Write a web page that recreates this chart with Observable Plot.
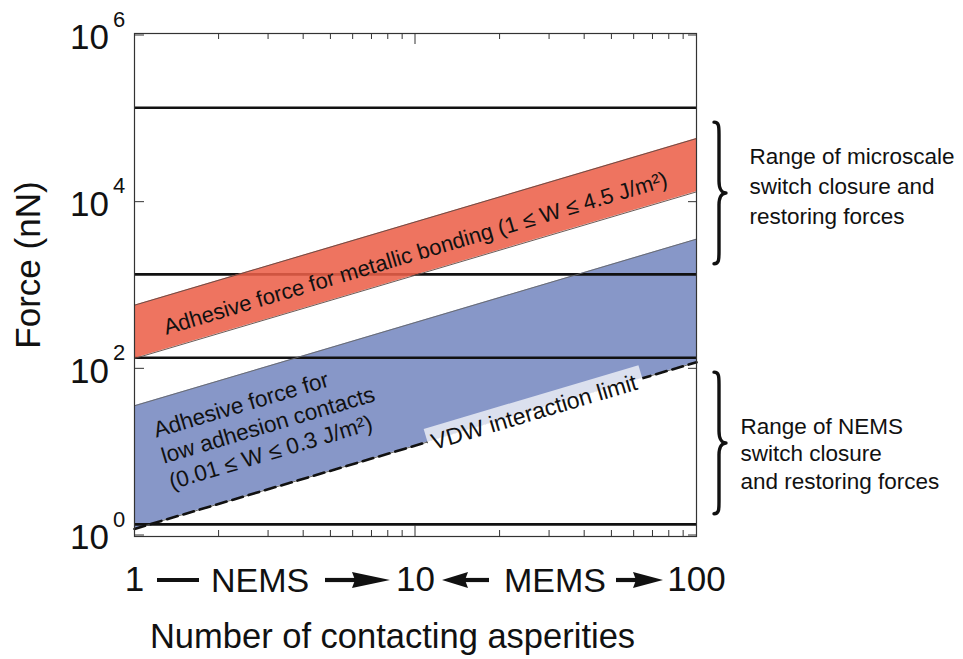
<!DOCTYPE html>
<html>
<head>
<meta charset="utf-8">
<script src="https://cdn.jsdelivr.net/npm/d3@7"></script>
<script src="https://cdn.jsdelivr.net/npm/@observablehq/plot@0.6"></script>
<style>
  html, body { margin: 0; padding: 0; background: #fff; }
  #chart svg { display: block; }
</style>
</head>
<body>
<div id="chart"></div>
<script>
// Number of contacting asperities at the two ends of each band (force scales linearly with N)
const asperities = [1, 100];
// Adhesive force for metallic bonding, 1 ≤ W ≤ 4.5 J/m² (nN)
const metallicLow = [133, 13300];
const metallicHigh = [580, 58000];
// Adhesive force for low adhesion contacts, 0.01 ≤ W ≤ 0.3 J/m² (nN); lower edge is the VDW limit
const lowAdhesionLow = [1.2, 120];
const lowAdhesionHigh = [36, 3600];
// Horizontal reference force levels (nN)
const referenceForces = [1.36, 136, 1360, 136000];
// Bracketed force ranges (nN)
const microscaleRange = [1800, 90000];
const nemsRange = [1.8, 90];
// Axis ticks
const forceTicks = [1, 100, 10000, 1000000];
const forceExponents = ["0", "2", "4", "6"];
const asperityTicks = [1, 10, 100];
const minorTicks = [2, 3, 4, 5, 6, 7, 8, 9, 20, 30, 40, 50, 60, 70, 80, 90];

const metallicLabel = "Adhesive force for metallic bonding (1 \u2264 W \u2264 4.5 J/m\u00b2)";
const lowAdhesionLabel = "Adhesive force for\nlow adhesion contacts\n(0.01 \u2264 W \u2264 0.3 J/m\u00b2)";
const vdwLabelText = "VDW interaction limit";
const microscaleLabel = "Range of microscale\nswitch closure and\nrestoring forces";
const nemsLabel = "Range of NEMS\nswitch closure\nand restoring forces";

const metallic = asperities.map((n, i) => ({n, lo: metallicLow[i], hi: metallicHigh[i]}));
const lowAdhesion = asperities.map((n, i) => ({n, lo: lowAdhesionLow[i], hi: lowAdhesionHigh[i]}));

const W = 963, H = 659;
const mL = 134, mR = 267, mT = 33, mB = 123;
const yTop = 35, yBottom = 535;
const plotW = W - mL - mR;
// slope of a force ∝ N line on screen
const angle = -Math.atan(((yBottom - yTop) / 6) / (plotW / 2)) * 180 / Math.PI;
const FONT = "Liberation Sans, Arial, Helvetica, sans-serif";

const gmean = (a) => Math.sqrt(a[0] * a[a.length - 1]);

// inward ticks on all four sides of the frame
function frameTicks(index, {x, y}, values, dim) {
  const top = dim.marginTop, bottom = dim.height - dim.marginBottom;
  const left = dim.marginLeft, right = dim.width - dim.marginRight;
  const g = d3.create("svg:g").attr("stroke", "#333").attr("stroke-width", 1);
  for (const v of minorTicks) {
    const px = x(v);
    g.append("line").attr("x1", px).attr("x2", px).attr("y1", top).attr("y2", top + 6);
    g.append("line").attr("x1", px).attr("x2", px).attr("y1", bottom).attr("y2", bottom - 6);
  }
  const p10 = x(asperityTicks[1]);
  g.append("line").attr("x1", p10).attr("x2", p10).attr("y1", top).attr("y2", top + 11);
  g.append("line").attr("x1", p10).attr("x2", p10).attr("y1", bottom).attr("y2", bottom - 11);
  for (const v of forceTicks) {
    const py = y(v);
    g.append("line").attr("x1", left).attr("x2", left + 10).attr("y1", py).attr("y2", py);
    g.append("line").attr("x1", right).attr("x2", right - 8).attr("y1", py).attr("y2", py);
  }
  return g.node();
}

// y tick labels written as a base of 10 with a raised exponent
function forceTickLabels(index, {y}, values, dim) {
  const left = dim.marginLeft;
  const g = d3.create("svg:g").attr("font-family", FONT).attr("fill", "#111");
  forceTicks.forEach((v, i) => {
    const py = y(v);
    g.append("text").attr("x", left - 25).attr("y", py + 2).attr("dy", "0.35em")
      .attr("text-anchor", "end").attr("font-size", 35).text("10");
    g.append("text").attr("x", left - 21).attr("y", py - 16).attr("dy", "0.35em")
      .attr("text-anchor", "start").attr("font-size", 22).text(forceExponents[i]);
  });
  return g.node();
}

// arrow drawn as a bar and a solid head; dir = +1 points right, -1 points left
function arrow(g, x0, x1, cy, head, dir) {
  const tip = dir > 0 ? x1 : x0;
  const base = tip - dir * head;
  const tail = dir > 0 ? x0 : x1;
  g.append("line").attr("x1", tail).attr("x2", base + dir * 3).attr("y1", cy).attr("y2", cy)
    .attr("stroke", "#111").attr("stroke-width", 4.2);
  g.append("path").attr("d", `M${tip},${cy} L${base},${cy - 8} L${base + dir * 3},${cy} L${base},${cy + 8} Z`)
    .attr("fill", "#111");
}

// NEMS / MEMS regime markers between the x tick labels
function regimeMarkers(index, {x}, values, dim) {
  const cy = dim.height - dim.marginBottom + 44;
  const x1 = x(asperityTicks[0]), x10 = x(asperityTicks[1]), x100 = x(asperityTicks[2]);
  const g = d3.create("svg:g").attr("text-anchor", "start");
  g.append("line").attr("x1", x1 + 23).attr("x2", x1 + 65).attr("y1", cy).attr("y2", cy)
    .attr("stroke", "#111").attr("stroke-width", 4.2);
  g.append("text").attr("x", x1 + 77).attr("y", cy).attr("dy", "0.35em")
    .attr("font-size", 34).attr("font-family", FONT).attr("fill", "#111").text("NEMS");
  arrow(g, x10 - 90, x10 - 25, cy, 38, 1);
  arrow(g, x10 + 27, x10 + 74, cy, 26, -1);
  g.append("text").attr("x", x10 + 89).attr("y", cy).attr("dy", "0.35em")
    .attr("font-size", 34).attr("font-family", FONT).attr("fill", "#111").text("MEMS");
  arrow(g, x100 - 80, x100 - 33, cy, 30, 1);
  return g.node();
}

// label sitting on the VDW line, with a pale backing box
function vdwLabel(index, {x, y}) {
  const ax = x(asperities[0]), ay = y(lowAdhesionLow[0]);
  const bx = x(asperities[1]), by = y(lowAdhesionLow[1]);
  const len = Math.hypot(bx - ax, by - ay);
  const ux = (bx - ax) / len, uy = (by - ay) / len;
  const t0 = 306;
  const px = ax + ux * t0, py = ay + uy * t0;
  const deg = Math.atan2(uy, ux) * 180 / Math.PI;
  const g = d3.create("svg:g").attr("transform", `translate(${px},${py}) rotate(${deg})`)
    .attr("text-anchor", "start");
  g.append("rect").attr("x", 0).attr("y", -13).attr("width", 224).attr("height", 13.5).attr("fill", "#dbe0ee");
  g.append("rect").attr("x", 0).attr("y", 0).attr("width", 224).attr("height", 13).attr("fill", "#fff");
  g.append("text").attr("x", 4).attr("y", 2).attr("dy", "0.35em").attr("font-size", 23)
    .attr("font-family", FONT).attr("fill", "#111").text(vdwLabelText);
  return g.node();
}

// curly braces to the right of the frame
function braces(index, {x, y}) {
  const g = d3.create("svg:g").attr("fill", "none").attr("stroke", "#111")
    .attr("stroke-width", 3.4).attr("stroke-linecap", "round").attr("stroke-linejoin", "round");
  const bx = x(asperities[1]) + 18;
  for (const r of [microscaleRange, nemsRange]) {
    const y1 = y(r[1]), y2 = y(r[0]);
    const m = (y1 + y2) / 2, w = 12, q = 5;
    g.append("path").attr("d",
      `M${bx},${y1} C${bx + q},${y1} ${bx + q},${y1 + 4} ${bx + q},${y1 + 12} ` +
      `L${bx + q},${m - 12} C${bx + q},${m - 4} ${bx + q + 3},${m} ${bx + w},${m} ` +
      `C${bx + q + 3},${m} ${bx + q},${m + 4} ${bx + q},${m + 12} ` +
      `L${bx + q},${y2 - 12} C${bx + q},${y2 - 4} ${bx + q},${y2} ${bx},${y2}`);
  }
  return g.node();
}

const chart = Plot.plot({
  width: W,
  height: H,
  marginLeft: mL,
  marginRight: mR,
  marginTop: mT,
  marginBottom: mB,
  style: {fontFamily: FONT, background: "#fff", overflow: "visible"},
  x: {type: "log", domain: [1, 100], axis: null},
  y: {type: "log", domain: [1, 1e6], range: [yBottom, yTop], axis: null},
  marks: [
    Plot.areaY(lowAdhesion, {x: "n", y1: "lo", y2: "hi", fill: "#8797c8"}),
    Plot.ruleY(referenceForces, {stroke: "#111", strokeWidth: 2.6}),
    Plot.areaY(metallic, {x: "n", y1: "lo", y2: "hi", fill: "#ec5f48", fillOpacity: 0.87}),
    Plot.line(metallic, {x: "n", y: "lo", stroke: "#5a4844", strokeWidth: 0.9}),
    Plot.line(metallic, {x: "n", y: "hi", stroke: "#5a4844", strokeWidth: 0.9}),
    Plot.line(lowAdhesion, {x: "n", y: "hi", stroke: "#666", strokeWidth: 0.9}),
    Plot.line(lowAdhesion, {x: "n", y: "lo", stroke: "#555", strokeWidth: 0.9}),
    Plot.line(lowAdhesion, {x: "n", y: "lo", stroke: "#111", strokeWidth: 2.6, strokeDasharray: "11,6"}),
    vdwLabel,
    Plot.text([metallicLabel], {
      x: [gmean(asperities)],
      y: [Math.sqrt(gmean(metallicLow) * gmean(metallicHigh))],
      text: d => d, rotate: angle, fontSize: 22, fill: "#111", dy: 5, lineAnchor: "middle"
    }),
    Plot.text([lowAdhesionLabel], {
      frameAnchor: "left",
      y: [Math.sqrt(lowAdhesionLow[0] * lowAdhesionHigh[0])],
      text: d => d, rotate: angle, fontSize: 22.5, fill: "#111", textAnchor: "start",
      lineAnchor: "middle", lineHeight: 1.2, dx: 27, dy: -12
    }),
    Plot.frame({stroke: "#333", strokeWidth: 1.2}),
    frameTicks,
    forceTickLabels,
    // x tick labels
    Plot.text(asperityTicks, {
      frameAnchor: "bottom", x: d => d, text: d => String(d), lineAnchor: "middle",
      dy: 43, fontSize: 35, fill: "#111"
    }),
    regimeMarkers,
    Plot.text(["Force (nN)"], {
      frameAnchor: "left", text: d => d, rotate: -90, textAnchor: "middle", lineAnchor: "middle",
      dx: -106, dy: -20, fontSize: 35, fill: "#111"
    }),
    Plot.text(["Number of contacting asperities"], {
      frameAnchor: "bottom", text: d => d, textAnchor: "middle", lineAnchor: "middle",
      dx: -23, dy: 100, fontSize: 34.5, fill: "#111"
    }),
    braces,
    Plot.text([microscaleLabel], {
      frameAnchor: "right", y: [gmean(microscaleRange)], text: d => d, textAnchor: "start",
      lineAnchor: "middle", dx: 53, dy: -9, fontSize: 22.5, lineHeight: 1.32, fill: "#111"
    }),
    Plot.text([nemsLabel], {
      frameAnchor: "right", y: [gmean(nemsRange)], text: d => d, textAnchor: "start",
      lineAnchor: "middle", dx: 44, dy: 9, fontSize: 22.5, lineHeight: 1.22, fill: "#111"
    })
  ]
});

document.getElementById("chart").append(chart);
</script>
</body>
</html>
